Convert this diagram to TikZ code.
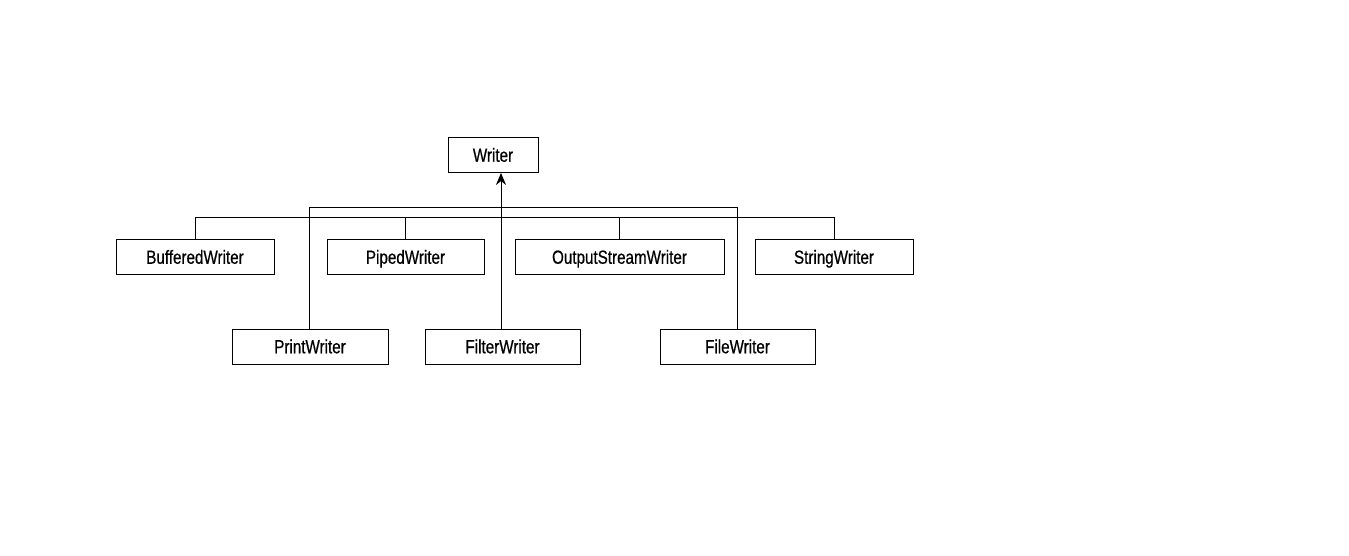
\documentclass[tikz,border=0pt]{standalone}
\usepackage{fontspec}
\setmainfont{Liberation Sans}[FakeStretch=0.8,FakeBold=0.6]
\usepackage{tikz}
\usetikzlibrary{arrows.meta}

\tikzset{
  classbox/.style={draw, line width=0.9pt, inner sep=0pt, minimum height=35,
    text height=13.5, text depth=0, font=\fontsize{19}{22}\selectfont},
  link/.style={line width=0.9pt}
}

\begin{document}
\begin{tikzpicture}[x=1pt,y=1pt,yscale=-1,xscale=1]
        \useasboundingbox (0,0) rectangle (1349,556);

        % Base class
        \node [classbox, minimum width=90] (writer) at (493,155) {Writer};

        % Upper row
        \node [classbox, minimum width=158] (buffered) at (195,257) {BufferedWriter};
        \node [classbox, minimum width=157] (piped) at (405.5,257) {PipedWriter};
        \node [classbox, minimum width=209] (outstream) at (619.5,257) {OutputStreamWriter};
        \node [classbox, minimum width=158] (string) at (834,257) {StringWriter};

        % Lower row
        \node [classbox, minimum width=156] (print) at (310,346.5) {PrintWriter};
        \node [classbox, minimum width=155] (filter) at (502.5,346.5) {FilterWriter};
        \node [classbox, minimum width=155] (file) at (737.5,346.5) {FileWriter};

        % Bars
        \coordinate (lowbar) at (0,217);
        \coordinate (upbar) at (0,207);

        %Straight Lines
        \draw [link] (buffered.north) |- (lowbar -| string.north) -- (string.north);
        \draw [link] (piped.north) -- (piped.north |- lowbar);
        \draw [link] (outstream.north) -- (outstream.north |- lowbar);
        %Straight Lines
        \draw [link] (print.north -| 309,0) |- (upbar -| file.north) -- (file.north);
        \draw [link, -{Stealth[length=12pt,width=10pt]}] (filter.north -| 501,0) -- (writer.south -| 501,0);

\end{tikzpicture}
\end{document}
